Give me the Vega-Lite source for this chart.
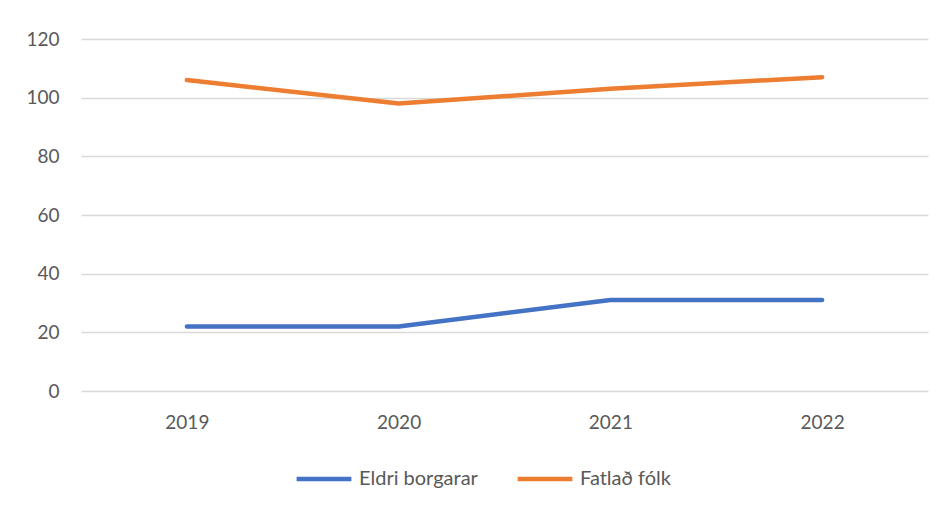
{
  "$schema": "https://vega.github.io/schema/vega-lite/v6.json",
  "autosize": {"type": "none"},
  "width": 847,
  "height": 352,
  "padding": {"left": 81, "top": 39, "right": 17, "bottom": 119},
  "background": "white",
  "data": {
    "values": [
      {"year": "2019", "series": "Eldri borgarar", "value": 22},
      {"year": "2020", "series": "Eldri borgarar", "value": 22},
      {"year": "2021", "series": "Eldri borgarar", "value": 31},
      {"year": "2022", "series": "Eldri borgarar", "value": 31},
      {"year": "2019", "series": "Fatlað fólk", "value": 106},
      {"year": "2020", "series": "Fatlað fólk", "value": 98},
      {"year": "2021", "series": "Fatlað fólk", "value": 103},
      {"year": "2022", "series": "Fatlað fólk", "value": 107}
    ]
  },
  "mark": {"type": "line", "strokeWidth": 4.5, "strokeCap": "round", "strokeJoin": "round"},
  "encoding": {
    "x": {
      "field": "year", "type": "ordinal",
      "scale": {"type": "point", "padding": 0.5},
      "axis": {"title": null, "labelAngle": 0, "domain": false, "ticks": false, "labelPadding": 22, "labelFont": "Lato", "labelFontSize": 19, "labelColor": "#595959"}
    },
    "y": {
      "field": "value", "type": "quantitative",
      "scale": {"domain": [0, 120], "nice": false},
      "axis": {"title": null, "values": [0, 20, 40, 60, 80, 100, 120], "domain": false, "ticks": false, "labelPadding": 22, "labelFont": "Lato", "labelFontSize": 19, "labelColor": "#595959", "gridColor": "#d9d9d9", "gridWidth": 1.5}
    },
    "color": {
      "field": "series", "type": "nominal",
      "scale": {"domain": ["Eldri borgarar", "Fatlað fólk"], "range": ["#4472C4", "#ED7D31"]},
      "legend": {"title": null, "orient": "none", "legendX": 213, "legendY": 410, "direction": "horizontal", "symbolType": "stroke", "symbolSize": 3000, "symbolStrokeWidth": 4.5, "labelFont": "Lato", "labelFontSize": 20, "labelColor": "#595959", "labelOffset": 5, "columnPadding": 30}
    }
  },
  "config": {"view": {"stroke": null}}
}
